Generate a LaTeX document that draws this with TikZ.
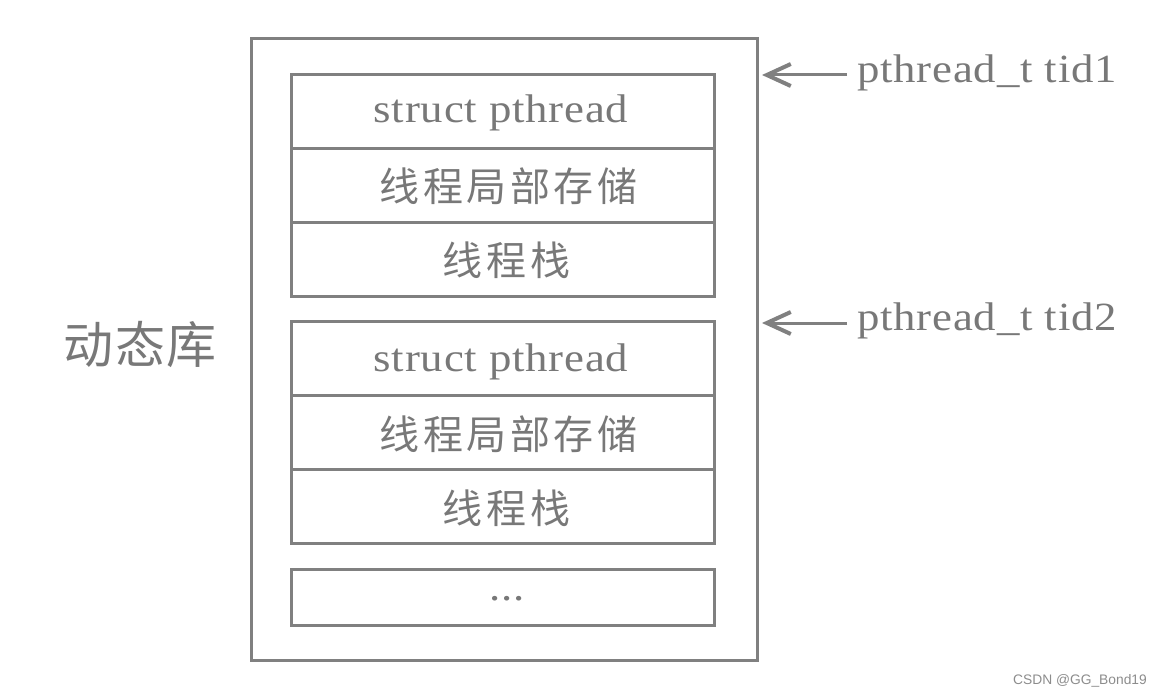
\documentclass[tikz,border=0pt]{standalone}
\usepackage{fontspec}
\setmainfont{Liberation Serif}[FakeStretch=1.12,LetterSpace=2]
\newfontfamily\cjk{Noto Sans CJK SC}[LetterSpace=9]
\newfontfamily\cjkbig{Noto Sans CJK SC}[LetterSpace=3]
\newfontfamily\wm{Liberation Sans}
\usetikzlibrary{arrows.meta}
\definecolor{linegray}{RGB}{128,128,128}
\definecolor{textgray}{RGB}{120,120,120}
\begin{document}
\begin{tikzpicture}[x=1pt,y=-1pt,
  box/.style={draw=linegray,line width=3pt,inner sep=0pt,outer sep=0pt,minimum width=423.5pt,minimum height=74pt},
  lat/.style={text=textgray,inner sep=0pt,anchor=base,font=\fontsize{40}{44}\selectfont},
  zh/.style={text=textgray,inner sep=0pt,font=\fontsize{40}{44}\selectfont\cjk},
  arr/.style={draw=linegray,line width=3pt,-{Straight Barb[length=24pt,width=22pt,line width=4pt]}}]
\useasboundingbox (0,0) rectangle (1162,695);
% outer box
\node[draw=linegray,line width=3pt,inner sep=0pt,outer sep=0pt,minimum width=506.5pt,minimum height=621.5pt] (outer) at (504.25,349.25) {};
% group 1
\node[box] (a1) at (502.75,111.5) {};
\node[box] (a2) at (502.75,185.5) {};
\node[box] (a3) at (502.75,259.5) {};
% group 2
\node[box] (b1) at (502.75,358.5) {};
\node[box] (b2) at (502.75,432.5) {};
\node[box] (b3) at (502.75,506.5) {};
% dots box
\node[box,minimum height=55.5pt] (c1) at (502.75,597.25) {};
% texts
\node[lat] (ta1) at (501,123) {struct pthread};
\node[zh] (ta2) at (508.5,186) {线程局部存储};
\node[zh] (ta3) at (506.5,260.5) {线程栈};
\node[lat] (tb1) at (501,371) {struct pthread};
\node[zh] (tb2) at (508.5,434) {线程局部存储};
\node[zh] (tb3) at (506.5,508) {线程栈};
\node[lat] (tc1) at (507,600) {...};
\node[text=textgray,inner sep=0pt,font=\fontsize{50}{54}\selectfont\cjkbig] (lib) at (140,345) {动态库};
% pointers
\coordinate (p1) at (847,75);
\coordinate (p2) at (847,323);
\draw[arr] (p1) -- ([xshift=4.5pt]outer.east |- p1);
\draw[arr] (p2) -- ([xshift=4.5pt]outer.east |- p2);
\node[lat,anchor=base west] (tid1) at (857,83) {pthread\_t tid1};
\node[lat,anchor=base west] (tid2) at (857,330) {pthread\_t tid2};
% watermark
\node[text=black!45,inner sep=0pt,anchor=base east,font=\fontsize{13.8}{16}\selectfont\wm] (wm) at (1147,684) {CSDN @GG\_Bond19};
\end{tikzpicture}
\end{document}
